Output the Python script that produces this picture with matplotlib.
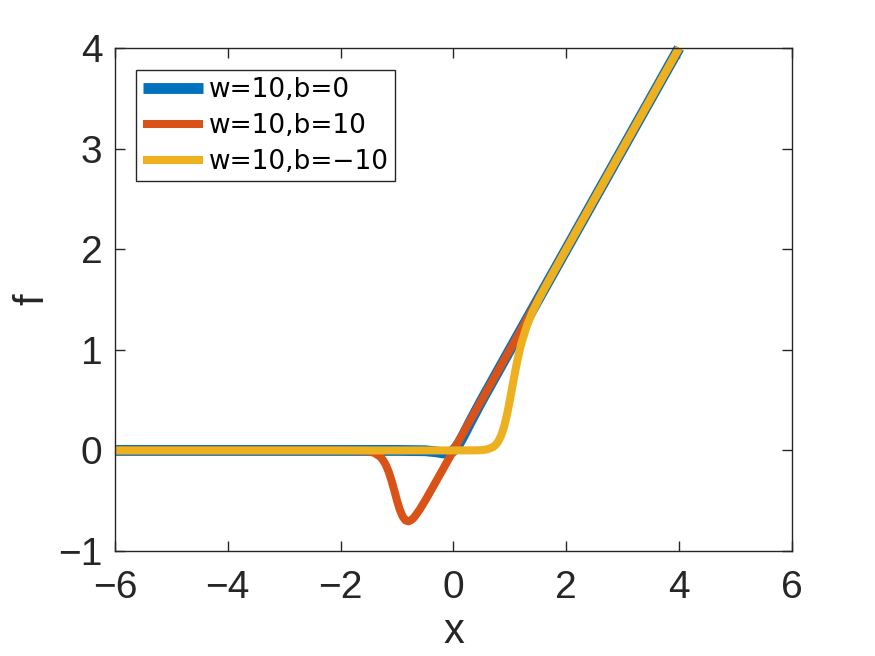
import matplotlib.pyplot as plt

plt.rcParams['font.family'] = ['Liberation Sans', 'DejaVu Sans']

# values
x_b0 = [-6, -3, -1, -0.5, -0.3, -0.2, -0.1, -0.05, 0, 0.05, 0.1, 0.15, 0.2, 0.3, 0.5, 1, 2, 4]
f_b0 = [0, 0, 0, -0.003, -0.014, -0.024, -0.027, -0.019, 0, 0.031, 0.073, 0.123, 0.176, 0.286, 0.497, 1.0, 2.0, 4.0]

x_b10 = [-6, -3, -2, -1.6, -1.5, -1.4, -1.3, -1.25, -1.2, -1.15, -1.1, -1.05, -1.0, -0.95, -0.9,
         -0.85, -0.8, -0.75, -0.7, -0.6, -0.5, -0.4, -0.2, 0, 1, 2, 4]
f_b10 = [0, 0, 0, -0.004, -0.010, -0.025, -0.062, -0.095, -0.143, -0.210, -0.296, -0.396, -0.5,
         -0.591, -0.658, -0.695, -0.705, -0.693, -0.667, -0.589, -0.497, -0.399, -0.2, 0, 1.0, 2.0, 4.0]

x_bm10 = [-6, -3, 0, 0.4, 0.5, 0.6, 0.7, 0.75, 0.8, 0.85, 0.9, 0.95, 1.0, 1.05, 1.1, 1.15, 1.2,
          1.3, 1.4, 1.5, 1.6, 1.8, 2, 4]
f_bm10 = [0, 0, 0, 0.001, 0.003, 0.011, 0.033, 0.057, 0.095, 0.155, 0.242, 0.359, 0.5, 0.654,
          0.804, 0.940, 1.057, 1.238, 1.375, 1.490, 1.596, 1.799, 2.0, 4.0]

fig = plt.figure(figsize=(8.75, 6.56), dpi=100)
ax = fig.add_axes([0.1314, 0.16, 0.7737, 0.7668])

ax.plot(x_b0, f_b0, color='#0072BD', lw=7.8, label='w=10,b=0', clip_on=False, solid_capstyle='butt')
ax.plot(x_b10, f_b10, color='#D95319', lw=5.8, label='w=10,b=10', clip_on=False, solid_capstyle='butt')
ax.plot(x_bm10, f_bm10, color='#EDB120', lw=5.8, label='w=10,b=\u221210', clip_on=False, solid_capstyle='butt')

ax.set_xlim(-6, 6)
ax.set_ylim(-1, 4)
ax.set_xticks([-6, -4, -2, 0, 2, 4, 6])
ax.set_yticks([-1, 0, 1, 2, 3, 4])
ax.tick_params(direction='in', length=7, width=1, labelsize=28, colors='#262626',
               top=True, right=True)
ax.tick_params(axis='x', pad=14)
ax.tick_params(axis='y', pad=9)
for s in ax.spines.values():
    s.set_color('#262626')
    s.set_linewidth(1)

ax.set_xlabel('x', fontsize=30, color='#262626', labelpad=4)
ax.set_ylabel('f', fontsize=30, color='#262626', labelpad=4)

leg = ax.legend(loc='upper left', bbox_to_anchor=(0.031, 0.956), borderaxespad=0,
                handlelength=2.3, handletextpad=0.2, labelspacing=0.38,
                borderpad=0.25, fancybox=False, framealpha=1, labelcolor='black',
                prop={'family': 'DejaVu Sans', 'size': 19})
leg.get_frame().set_edgecolor('#262626')
leg.get_frame().set_linewidth(1)
for h in leg.get_lines():
    h.set_solid_capstyle('butt')

fig.savefig('out.png')
